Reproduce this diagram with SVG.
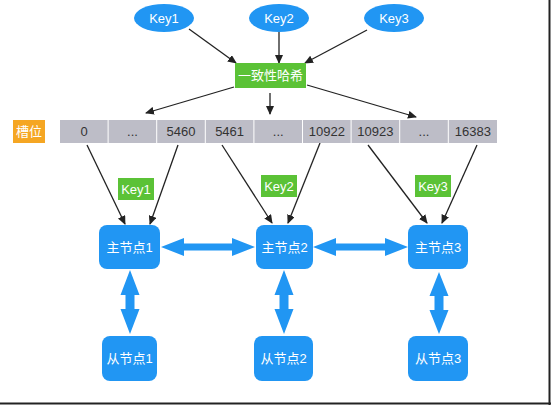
<svg xmlns="http://www.w3.org/2000/svg" width="551" height="405" viewBox="0 0 551 405">
<style>
text{font-family:"Liberation Sans","Noto Sans CJK SC",sans-serif;font-size:13px;text-anchor:middle;dominant-baseline:central}
.w{fill:#ffffff}
.d{fill:#333333}
.key{fill:#2196F3}
.node{fill:#2196F3}
.green{fill:#5BC236}
.slot{fill:#BDBDC7}
.ln{stroke:#222222;stroke-width:1.3;fill:none;marker-end:url(#ah)}
.big{fill:#2196F3}
</style>
<defs>
<marker id="ah" markerUnits="userSpaceOnUse" markerWidth="9" markerHeight="8" refX="8" refY="4" orient="auto">
<path d="M0,0 L9,4 L0,8 Z" fill="#222222"/>
</marker>
</defs>
<rect width="551" height="405" fill="#ffffff"/>
<line x1="0" y1="403.5" x2="551" y2="403.5" stroke="#222" stroke-width="2"/>
<line x1="549.5" y1="0" x2="549.5" y2="405" stroke="#222" stroke-width="2"/>

<g id="connectors">
<line class="ln" x1="189" y1="29" x2="236" y2="63"/>
<line class="ln" x1="279" y1="32" x2="279" y2="63"/>
<line class="ln" x1="367" y1="30" x2="305" y2="63"/>
<line class="ln" x1="234" y1="87" x2="146" y2="113"/>
<line class="ln" x1="270" y1="93" x2="270" y2="114"/>
<line class="ln" x1="307" y1="85" x2="416" y2="117"/>
<line class="ln" x1="87" y1="145" x2="125" y2="224"/>
<line class="ln" x1="178" y1="145" x2="150" y2="224"/>
<line class="ln" x1="222" y1="145" x2="272" y2="223"/>
<line class="ln" x1="320" y1="143" x2="288" y2="223"/>
<line class="ln" x1="368" y1="145" x2="427" y2="223"/>
<line class="ln" x1="477" y1="145" x2="442" y2="223"/>
<polygon class="big" points="161,247 184,238 184,243.5 232,243.5 232,238 255,247 232,256 232,250.5 184,250.5 184,256"/>
<polygon class="big" points="313,247 336,238 336,243.5 385,243.5 385,238 408,247 385,256 385,250.5 336,250.5 336,256"/>
<polygon class="big" points="130,270 139.5,295 134.5,295 134.5,309 139.5,309 130,334 120.5,309 125.5,309 125.5,295 120.5,295"/>
<polygon class="big" points="284,270 293.5,295 288.5,295 288.5,309 293.5,309 284,334 274.5,309 279.5,309 279.5,295 274.5,295"/>
<polygon class="big" points="439,272 448.5,296 443.5,296 443.5,310 448.5,310 439,334 429.5,310 434.5,310 434.5,296 429.5,296"/>
</g>

<g id="key1"><ellipse class="key" cx="164" cy="18" rx="30" ry="14"/><text class="w" x="164" y="18">Key1</text></g>
<g id="key2"><ellipse class="key" cx="279" cy="18" rx="30" ry="14"/><text class="w" x="279" y="18">Key2</text></g>
<g id="key3"><ellipse class="key" cx="394" cy="18" rx="30" ry="14"/><text class="w" x="394" y="18">Key3</text></g>

<g id="hash"><rect class="green" x="235" y="63" width="71" height="25"/><text class="w" x="270.5" y="75.5">一致性哈希</text></g>

<g id="slotlabel"><rect x="13" y="120" width="32" height="23" fill="#F5A623"/><text class="w" x="29" y="131.5">槽位</text></g>

<g id="slots">
<rect class="slot" x="60" y="120" width="47.6" height="23"/>
<rect class="slot" x="108.6" y="120" width="47.6" height="23"/>
<rect class="slot" x="157.2" y="120" width="47.6" height="23"/>
<rect class="slot" x="205.8" y="120" width="47.6" height="23"/>
<rect class="slot" x="254.4" y="120" width="47.6" height="23"/>
<rect class="slot" x="303" y="120" width="47.6" height="23"/>
<rect class="slot" x="351.6" y="120" width="47.6" height="23"/>
<rect class="slot" x="400.2" y="120" width="47.6" height="23"/>
<rect class="slot" x="448.8" y="120" width="48.2" height="23"/>
<text class="d" x="84" y="131.5">0</text>
<text class="d" x="132.5" y="131.5">...</text>
<text class="d" x="181" y="131.5">5460</text>
<text class="d" x="229.6" y="131.5">5461</text>
<text class="d" x="278.2" y="131.5">...</text>
<text class="d" x="326.8" y="131.5">10922</text>
<text class="d" x="375.4" y="131.5">10923</text>
<text class="d" x="424" y="131.5">...</text>
<text class="d" x="472.8" y="131.5">16383</text>
</g>

<g id="label-key1"><rect class="green" x="118" y="178" width="36" height="22"/><text class="w" x="136" y="189">Key1</text></g>
<g id="label-key2"><rect class="green" x="261" y="175" width="36" height="22"/><text class="w" x="279" y="186">Key2</text></g>
<g id="label-key3"><rect class="green" x="415" y="175" width="36" height="22"/><text class="w" x="433" y="186">Key3</text></g>

<g id="master1"><rect class="node" x="99" y="225" width="61" height="44" rx="8"/><text class="w" x="129.5" y="247">主节点1</text></g>
<g id="master2"><rect class="node" x="256" y="225" width="57" height="44" rx="8"/><text class="w" x="284.5" y="247">主节点2</text></g>
<g id="master3"><rect class="node" x="408" y="225" width="60" height="44" rx="8"/><text class="w" x="438" y="247">主节点3</text></g>

<g id="slave1"><rect class="node" x="102" y="336" width="55" height="45" rx="8"/><text class="w" x="129.5" y="358.5">从节点1</text></g>
<g id="slave2"><rect class="node" x="254" y="336" width="59" height="45" rx="8"/><text class="w" x="283.5" y="358.5">从节点2</text></g>
<g id="slave3"><rect class="node" x="408" y="336" width="60" height="45" rx="8"/><text class="w" x="438" y="358.5">从节点3</text></g>
</svg>
